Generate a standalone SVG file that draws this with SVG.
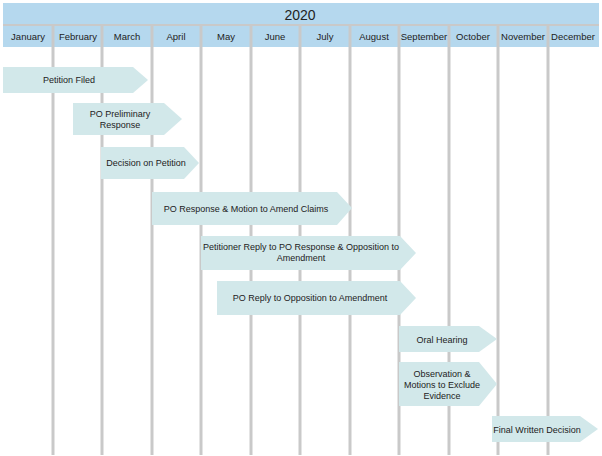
<svg xmlns="http://www.w3.org/2000/svg" width="602" height="456" viewBox="0 0 602 456">
<style>
.hdr{fill:#b5d8ee}
.vl{stroke:#c9c9c9;stroke-width:3}
.ar{fill:#d2e8ea}
text{font-family:"Liberation Sans",Arial,sans-serif;font-size:9px;fill:#222;text-anchor:middle}
.m{font-size:9.5px}
</style>
<rect width="602" height="456" fill="#fff"/>
<g id="header">
<rect class="hdr" x="3" y="3" width="596" height="44"/>
<line x1="3" y1="25" x2="599" y2="25" stroke="#c9c9c9" stroke-width="2"/>
<text x="300" y="20" style="font-size:14px">2020</text>
</g>
<g id="grid">
<line class="vl" x1="53" y1="25" x2="53" y2="455"/>
<line class="vl" x1="102" y1="25" x2="102" y2="455"/>
<line class="vl" x1="152" y1="25" x2="152" y2="455"/>
<line class="vl" x1="201" y1="25" x2="201" y2="455"/>
<line class="vl" x1="251" y1="25" x2="251" y2="455"/>
<line class="vl" x1="300" y1="25" x2="300" y2="455"/>
<line class="vl" x1="350" y1="25" x2="350" y2="455"/>
<line class="vl" x1="399" y1="25" x2="399" y2="455"/>
<line class="vl" x1="449" y1="25" x2="449" y2="455"/>
<line class="vl" x1="498" y1="25" x2="498" y2="455"/>
<line class="vl" x1="548" y1="25" x2="548" y2="455"/>
</g>
<g id="months" class="m">
<text class="m" x="28" y="40">January</text>
<text class="m" x="78" y="40">February</text>
<text class="m" x="127" y="40">March</text>
<text class="m" x="176" y="40">April</text>
<text class="m" x="226" y="40">May</text>
<text class="m" x="275" y="40">June</text>
<text class="m" x="325" y="40">July</text>
<text class="m" x="374" y="40">August</text>
<text class="m" x="424" y="40">September</text>
<text class="m" x="473" y="40">October</text>
<text class="m" x="523" y="40">November</text>
<text class="m" x="573" y="40">December</text>
</g>
<g id="n1"><polygon class="ar" points="3,67 133,67 148,80 133,93 3,93"/><text x="69" y="83">Petition Filed</text></g>
<g id="n2"><polygon class="ar" points="73,103 164,103 182,119 164,135 73,135"/><text x="120" y="117">PO Preliminary</text><text x="120" y="128">Response</text></g>
<g id="n3"><polygon class="ar" points="101,147 184,147 199,163 184,179 101,179"/><text x="146" y="166">Decision on Petition</text></g>
<g id="n4"><polygon class="ar" points="152,192 337,192 352,208 337,225 152,225"/><text x="246" y="212">PO Response &amp; Motion to Amend Claims</text></g>
<g id="n5"><polygon class="ar" points="201,236 400,236 416,253 400,270 201,270"/><text x="301" y="250">Petitioner Reply to PO Response &amp; Opposition to</text><text x="301" y="261">Amendment</text></g>
<g id="n6"><polygon class="ar" points="217,281 400,281 416,298 400,315 217,315"/><text x="310" y="301">PO Reply to Opposition to Amendment</text></g>
<g id="n7"><polygon class="ar" points="399,326 479,326 497,339 479,352 399,352"/><text x="442" y="343">Oral Hearing</text></g>
<g id="n8"><polygon class="ar" points="399,362 479,362 497,384 479,406 399,406"/><text x="442" y="377">Observation &amp;</text><text x="442" y="388">Motions to Exclude</text><text x="442" y="399">Evidence</text></g>
<g id="n9"><polygon class="ar" points="492,416 580,416 598,429 580,442 492,442"/><text x="537" y="433">Final Written Decision</text></g>
<g id="connectors"></g>
</svg>
